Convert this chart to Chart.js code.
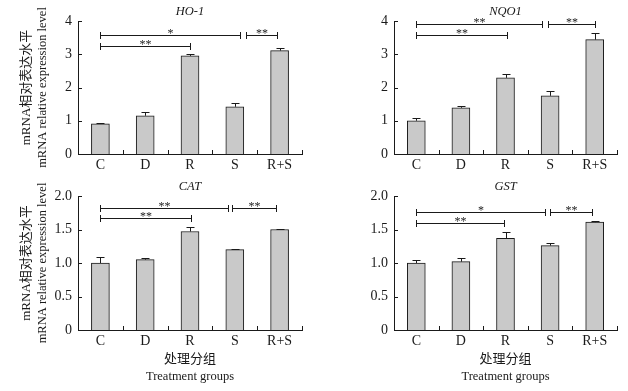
<!DOCTYPE html>
<html><head><meta charset="utf-8">
<script src="https://cdn.jsdelivr.net/npm/chart.js@4/dist/chart.umd.min.js"></script>
<style>
html,body{margin:0;padding:0;background:#fff;}
body{width:628px;height:391px;position:relative;overflow:hidden;}
.p{position:absolute;}
</style></head>
<body>
<div class="p" style="left:0;top:0;width:314px;height:180px"><canvas id="c1"></canvas></div>
<div class="p" style="left:314px;top:0;width:314px;height:180px"><canvas id="c2"></canvas></div>
<div class="p" style="left:0;top:180px;width:314px;height:211px"><canvas id="c3"></canvas></div>
<div class="p" style="left:314px;top:180px;width:314px;height:211px"><canvas id="c4"></canvas></div>
<script>
// ---- data ----
const categories = ['C', 'D', 'R', 'S', 'R+S'];
const ho1Means = [0.91, 1.15, 2.95, 1.42, 3.11];
const ho1Errors = [0.03, 0.12, 0.06, 0.12, 0.07];
const nqo1Means = [1.00, 1.39, 2.29, 1.75, 3.44];
const nqo1Errors = [0.09, 0.04, 0.12, 0.14, 0.19];
const catMeans = [1.00, 1.05, 1.47, 1.20, 1.50];
const catErrors = [0.09, 0.03, 0.06, 0.01, 0.01];
const gstMeans = [1.00, 1.02, 1.37, 1.26, 1.61];
const gstErrors = [0.05, 0.05, 0.09, 0.04, 0.02];
// significance brackets: [from category, to category, level, label]
const ho1Brackets = [[0, 3.12, 3.57, '*'], [3.25, 3.95, 3.57, '**'], [0, 2, 3.24, '**']];
const nqo1Brackets = [[0, 2.82, 3.9, '**'], [2.95, 4.0, 3.9, '**'], [0, 2.03, 3.58, '**']];
const catBrackets = [[0, 2.85, 1.82, '**'], [2.94, 3.92, 1.82, '**'], [0, 2.02, 1.67, '**']];
const gstBrackets = [[0, 2.88, 1.76, '*'], [2.99, 3.95, 1.76, '**'], [0, 1.97, 1.60, '**']];
const yTitleZh = 'mRNA相对表达水平';
const yTitleEn = 'mRNA relative expression level';
const xTitleZh = '处理分组';
const xTitleEn = 'Treatment groups';

const SERIF = "'Liberation Serif', 'Times New Roman', 'Noto Sans CJK SC', serif";
const INK = '#1a1a1a';

const annot = {
  id: 'annot',
  afterDatasetsDraw(chart, args, o) {
    const ctx = chart.ctx, xs = chart.scales.x, ys = chart.scales.y, ca = chart.chartArea;
    const vals = chart.data.datasets[0].data;
    ctx.save();
    ctx.strokeStyle = INK; ctx.fillStyle = INK; ctx.lineWidth = 1;
    const line = (a, b, c, d) => { ctx.beginPath(); ctx.moveTo(a, b); ctx.lineTo(c, d); ctx.stroke(); };
    // error bars (upper)
    o.errors.forEach((e, i) => {
      const px = Math.round(xs.getPixelForValue(i)) + 0.5;
      const y0 = ys.getPixelForValue(vals[i]);
      const y1 = Math.round(ys.getPixelForValue(vals[i] + e)) + 0.5;
      line(px, y0, px, y1);
      line(px - 4, y1, px + 4, y1);
    });
    // inner ticks
    ys.ticks.forEach(t => {
      const py = Math.round(ys.getPixelForValue(t.value)) + 0.5;
      line(ca.left, py, ca.left + 4, py);
    });
    for (let i = 0; i < categories.length; i++) {
      const px = Math.round(xs.getPixelForValue(i + 0.5)) + 0.5;
      line(px, ca.bottom, px, ca.bottom - 4);
    }
    // brackets
    ctx.font = '12px ' + SERIF;
    ctx.textAlign = 'center'; ctx.textBaseline = 'alphabetic';
    o.brackets.forEach(b => {
      const xa = Math.round(xs.getPixelForValue(b[0])) + 0.5;
      const xb = Math.round(xs.getPixelForValue(b[1])) + 0.5;
      const py = Math.round(ys.getPixelForValue(b[2])) + 0.5;
      line(xa, py, xb, py);
      line(xa, py - 3.5, xa, py + 3.5);
      line(xb, py - 3.5, xb, py + 3.5);
      ctx.fillText(b[3], (xa + xb) / 2, py + 1.5);
    });
    // title
    ctx.font = 'italic 12.5px ' + SERIF;
    ctx.textBaseline = 'middle';
    ctx.fillText(o.title, (ca.left + ca.right) / 2, ca.top - 9);
    // y titles
    if (o.yTitle) {
      const cy = (ca.top + ca.bottom) / 2;
      ctx.save();
      ctx.translate(27, cy); ctx.rotate(-Math.PI / 2);
      ctx.font = '13px ' + SERIF; ctx.fillText(yTitleZh, 0, 0);
      ctx.restore();
      ctx.save();
      ctx.translate(43, cy); ctx.rotate(-Math.PI / 2);
      ctx.font = '12.5px ' + SERIF; ctx.fillText(yTitleEn, 0, 0);
      ctx.restore();
    }
    if (o.xTitle) {
      const cx = (ca.left + ca.right) / 2;
      ctx.font = '13px ' + SERIF; ctx.fillText(xTitleZh, cx, ca.bottom + 30);
      ctx.font = '12.5px ' + SERIF; ctx.fillText(xTitleEn, cx, ca.bottom + 47);
    }
    ctx.restore();
  }
};

function makeChart(id, means, errors, brackets, title, opt) {
  const isHalf = opt.max === 2;
  new Chart(document.getElementById(id), {
    type: 'bar',
    data: {
      labels: categories,
      datasets: [{
        data: means,
        backgroundColor: '#c9c9c9',
        borderColor: INK,
        borderWidth: 1,
        borderSkipped: 'bottom',
        barThickness: 18,
      }]
    },
    options: {
      responsive: true,
      maintainAspectRatio: false,
      animation: false,
      events: [],
      layout: { padding: { left: 0, top: opt.top, right: opt.right, bottom: 0 } },
      plugins: {
        legend: { display: false },
        title: { display: false },
        tooltip: { enabled: false },
        annot: { errors, brackets, title, yTitle: opt.yTitle, xTitle: opt.xTitle }
      },
      scales: {
        x: {
          grid: { display: false, drawTicks: false, tickLength: 0 },
          border: { display: true, color: INK, width: 1 },
          ticks: { color: INK, font: { family: SERIF, size: 14 }, padding: 3, maxRotation: 0 },
          afterFit(s) { s.height = opt.xh; }
        },
        y: {
          min: 0, max: opt.max,
          grid: { display: false, drawTicks: false, tickLength: 0 },
          border: { display: true, color: INK, width: 1 },
          ticks: {
            color: INK, font: { family: SERIF, size: 14 }, padding: 6,
            stepSize: isHalf ? 0.5 : 1,
            callback: v => (v === 0 ? '0' : (isHalf ? v.toFixed(1) : String(v)))
          },
          afterFit(s) { s.width = opt.yw; }
        }
      }
    },
    plugins: [annot]
  });
}

makeChart('c1', ho1Means, ho1Errors, ho1Brackets, 'HO-1', { max: 4, top: 21, right: 12, yw: 78, xh: 26, yTitle: true, xTitle: false });
makeChart('c2', nqo1Means, nqo1Errors, nqo1Brackets, 'NQO1', { max: 4, top: 21, right: 11, yw: 80, xh: 26, yTitle: false, xTitle: false });
makeChart('c3', catMeans, catErrors, catBrackets, 'CAT', { max: 2, top: 16, right: 12, yw: 78, xh: 61, yTitle: true, xTitle: true });
makeChart('c4', gstMeans, gstErrors, gstBrackets, 'GST', { max: 2, top: 16, right: 11, yw: 80, xh: 61, yTitle: false, xTitle: true });
</script>
</body></html>
